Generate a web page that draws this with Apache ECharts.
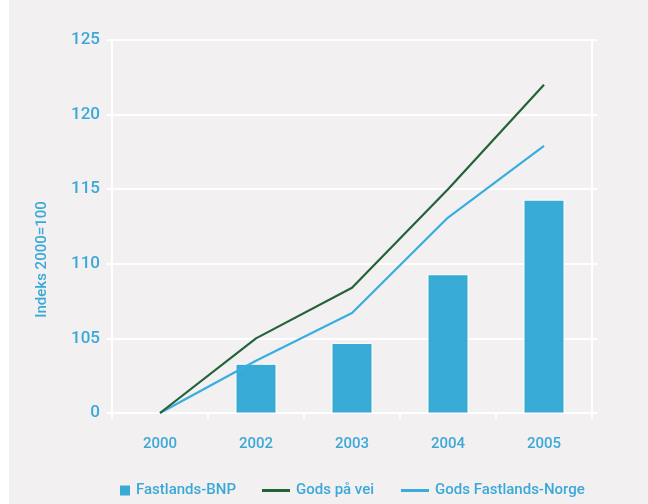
<!DOCTYPE html>
<html>
<head>
<meta charset="utf-8">
<script src="https://cdn.jsdelivr.net/npm/echarts@6/dist/echarts.min.js"></script>
<style>
  html, body { margin: 0; padding: 0; background: #ffffff; }
  #chart { width: 648px; height: 504px; }
</style>
</head>
<body>
<div id="chart"></div>
<script>
// Index values, 2000 = 100
const years = ['2000', '2002', '2003', '2004', '2005'];
const fastlandsBnp = [100, 103.3, 104.7, 109.3, 114.3];
const godsPaVei = [100, 105.0, 108.4, 115.0, 122.0];
const godsFastlandsNorge = [100, 103.5, 106.7, 113.1, 117.9];
const yTickValues = [100, 105, 110, 115, 120, 125];
const yTickLabels = ['0', '105', '110', '115', '120', '125'];

const seriesNames = ['Fastlands-BNP', 'Gods på vei', 'Gods Fastlands-Norge'];

const textBlue = '#3aa9d8';
const barBlue = '#38aad6';
const lineGreen = '#24623a';
const lineBlue = '#3aade0';
const font = 'Roboto';

const chart = echarts.init(document.getElementById('chart'), null, { renderer: 'canvas' });

function legendAt(left, name, color, w, h) {
  return {
    left: left,
    top: 478,
    itemWidth: w,
    itemHeight: h,
    itemGap: 0,
    selectedMode: false,
    data: [{ name: name, icon: 'rect', itemStyle: { color: color, borderWidth: 0 } }],
    textStyle: { color: textBlue, fontFamily: font, fontSize: 15, fontWeight: 500, padding: [0, 0, 0, 1] }
  };
}

chart.setOption({
  animation: false,
  graphic: [{
    type: 'rect',
    z: -10,
    shape: { x: 9, y: 0, width: 639, height: 504 },
    style: { fill: '#f2f0f1' }
  }],
  grid: { left: 112, right: 56, top: 40, bottom: 91, containLabel: false },
  legend: [
    legendAt(115, seriesNames[0], barBlue, 10, 10),
    legendAt(257, seriesNames[1], lineGreen, 28, 3),
    legendAt(396, seriesNames[2], lineBlue, 28, 3)
  ],
  xAxis: {
    type: 'category',
    data: years,
    boundaryGap: true,
    axisLine: { show: true, lineStyle: { color: '#ffffff', width: 2 } },
    axisTick: { show: true, length: 6, lineStyle: { color: '#ffffff', width: 2 } },
    axisLabel: { color: textBlue, fontFamily: font, fontSize: 15, fontWeight: 500, margin: 24 },
    splitLine: { show: false }
  },
  yAxis: [{
    type: 'value',
    min: 100,
    max: 125,
    interval: 5,
    name: 'Indeks 2000=100',
    nameLocation: 'middle',
    nameGap: 62,
    nameTextStyle: { color: textBlue, fontFamily: font, fontSize: 15, fontWeight: 500, padding: [0, 66, 0, 0] },
    axisLine: { show: true, lineStyle: { color: '#ffffff', width: 2 } },
    axisTick: { show: true, length: 5, lineStyle: { color: '#ffffff', width: 2 } },
    axisLabel: {
      color: textBlue, fontFamily: font, fontSize: 17, fontWeight: 500, margin: 12,
      formatter: function (v) {
        const i = yTickValues.indexOf(v);
        return i >= 0 ? yTickLabels[i] : '';
      }
    },
    splitLine: { show: true, lineStyle: { color: '#ffffff', width: 2 } }
  }, {
    type: 'value',
    position: 'right',
    min: 100,
    max: 125,
    interval: 5,
    axisLine: { show: true, lineStyle: { color: '#ffffff', width: 2 } },
    axisTick: { show: true, length: 5, lineStyle: { color: '#ffffff', width: 2 } },
    axisLabel: { show: false },
    splitLine: { show: false }
  }],
  series: [{
    name: seriesNames[0],
    type: 'bar',
    data: fastlandsBnp,
    barWidth: 41,
    itemStyle: { color: barBlue, borderColor: '#ffffff', borderWidth: 1 },
    z: 2
  }, {
    name: seriesNames[1],
    type: 'line',
    data: godsPaVei,
    showSymbol: false,
    symbol: 'none',
    lineStyle: { color: lineGreen, width: 2.2 },
    itemStyle: { color: lineGreen },
    z: 4
  }, {
    name: seriesNames[2],
    type: 'line',
    data: godsFastlandsNorge,
    showSymbol: false,
    symbol: 'none',
    lineStyle: { color: lineBlue, width: 2.2 },
    itemStyle: { color: lineBlue },
    z: 3
  }]
});
</script>
</body>
</html>
